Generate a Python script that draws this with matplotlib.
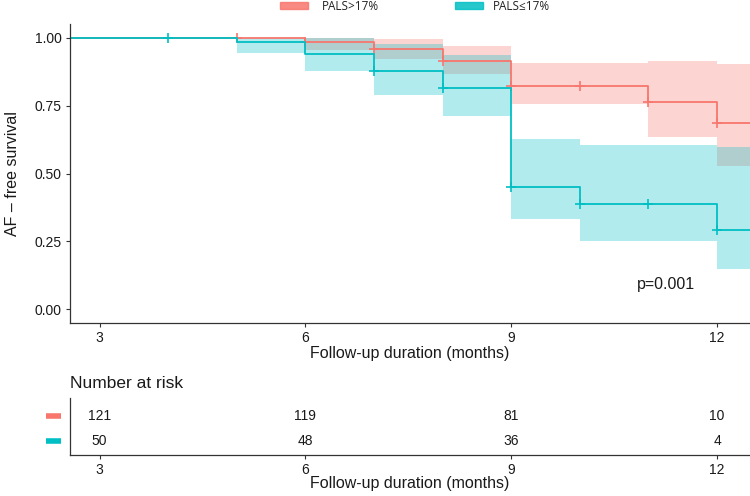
import numpy as np
import matplotlib
matplotlib.use("Agg")
import matplotlib.pyplot as plt
from matplotlib.patches import Rectangle
from matplotlib.transforms import blended_transform_factory

plt.rcParams['font.family'] = ['Liberation Sans', 'DejaVu Sans']

# ---------------- data ----------------
groups = ["PALS>17%", "PALS\u226417%"]
colors = ["#F8766D", "#00BFC4"]
t_start = 2.57
t_end = 12.48

# step change times (first entry = start), survival and CI after each change
red_edges = [t_start, 6, 7, 8, 9, 11, 12]
red_surv = [1.0, 0.984, 0.957, 0.914, 0.822, 0.763, 0.684]
red_upper = [1.0, 1.0, 0.993, 0.970, 0.908, 0.914, 0.902]
red_lower = [1.0, 0.955, 0.920, 0.865, 0.755, 0.636, 0.526]
red_censor = [5, 6, 7, 8, 9, 10, 11, 12]

teal_edges = [t_start, 5, 6, 7, 8, 9, 10, 12]
teal_surv = [1.0, 0.982, 0.940, 0.877, 0.814, 0.452, 0.389, 0.292]
teal_upper = [1.0, 1.0, 0.997, 0.975, 0.935, 0.626, 0.604, 0.596]
teal_lower = [1.0, 0.945, 0.877, 0.790, 0.712, 0.332, 0.252, 0.148]
teal_censor = [4, 7, 8, 9, 10, 11, 12]

risk_times = [3, 6, 9, 12]
risk_red = [121, 119, 81, 10]
risk_teal = [50, 48, 36, 4]

x_ticks = [3, 6, 9, 12]
y_ticks = [0.0, 0.25, 0.5, 0.75, 1.0]
y_ticklabels = ["0.00", "0.25", "0.50", "0.75", "1.00"]
p_text = "p=0.001"

# ---------------- figure ----------------
W, H = 750, 496
fig = plt.figure(figsize=(W / 100, H / 100), dpi=100)

def fx(px):
    return px / W

def fy(py):
    return 1 - py / H

ax = fig.add_axes([fx(70), fy(323), fx(680), 299 / H])
ax2 = fig.add_axes([fx(70), fy(455), fx(680), 57 / H])

axis_col = "#333333"
text_col = "#1a1a1a"

series = [
    (red_edges, red_surv, red_upper, red_lower, red_censor, colors[0]),
    (teal_edges, teal_surv, teal_upper, teal_lower, teal_censor, colors[1]),
]

# confidence bands
for edges, surv, up, lo, cens, col in series:
    xs = np.append(edges, t_end)
    ups = np.append(up, up[-1])
    los = np.append(lo, lo[-1])
    ax.fill_between(xs, los, ups, step="post", color=col, alpha=0.3, lw=0)

# survival curves and censor marks
for edges, surv, up, lo, cens, col in series:
    xs = np.append(edges, t_end)
    ys = np.append(surv, surv[-1])
    ax.step(xs, ys, where="post", color=col, lw=1.3)
    idx = np.searchsorted(edges, cens, side="right") - 1
    cy = np.array(surv)[idx]
    ax.plot(cens, cy, linestyle="none", marker="+", ms=7, mew=1.2, color=col)

ax.set_xlim(t_start, t_end)
ax.set_ylim(-0.05, 1.05)
ax.set_xticks(x_ticks)
ax.set_yticks(y_ticks)
ax.set_yticklabels(y_ticklabels)
for s in ["top", "right"]:
    ax.spines[s].set_visible(False)
for s in ["left", "bottom"]:
    ax.spines[s].set_color(axis_col)
    ax.spines[s].set_linewidth(0.9)
ax.tick_params(axis="both", length=3, width=0.8, color=axis_col,
               labelsize=10, labelcolor=text_col, pad=3)
ax.set_ylabel("AF \u2013 free survival", fontsize=11.5, color=text_col)
ax.yaxis.set_label_coords((20 - 70) / 680, 0.5)
ax.set_xlabel("Follow-up duration (months)", fontsize=11.5, color=text_col)
ax.xaxis.set_label_coords(0.5, (323 - 346) / 299)
ax.text(10.835, 0.092, p_text, fontsize=11.5, color=text_col,
        ha="left", va="center")

# legend at top (near the top edge, as in the reference)
legend_items = [(280, 322), (455, 493)]
for (px, tx), lab, col in zip(legend_items, groups, colors):
    fig.add_artist(Rectangle((fx(px), fy(9)), fx(28), 7 / H,
                             transform=fig.transFigure, color=col, alpha=0.85))
    fig.text(fx(tx), fy(6.5), lab, fontsize=8.5, color="#222222",
             ha="left", va="center", family=["Open Sans", "DejaVu Sans"])

# ---------------- risk table ----------------
rows = [(2, risk_red, colors[0]), (1, risk_teal, colors[1])]
for yrow, vals, col in rows:
    for t, v in zip(risk_times, vals):
        ax2.text(t, yrow, str(v), ha="center", va="center", fontsize=10,
                 color=text_col)
    tr = blended_transform_factory(ax2.transAxes, ax2.transData)
    ax2.plot([-24 / 680, -9 / 680], [yrow, yrow], transform=tr, color=col,
             lw=4, solid_capstyle="butt", clip_on=False)

ax2.set_xlim(t_start, t_end)
ax2.set_ylim(0.447, 2.70)
ax2.set_xticks(x_ticks)
ax2.set_yticks([])
for s in ["top", "right"]:
    ax2.spines[s].set_visible(False)
for s in ["left", "bottom"]:
    ax2.spines[s].set_color(axis_col)
    ax2.spines[s].set_linewidth(0.9)
ax2.tick_params(axis="x", length=3, width=0.8, color=axis_col,
                labelsize=10, labelcolor=text_col, pad=3)
ax2.set_xlabel("Follow-up duration (months)", fontsize=11.5, color=text_col)
ax2.xaxis.set_label_coords(0.5, (455 - 476) / 57)
fig.text(fx(70), fy(383), "Number at risk", fontsize=12.5, color=text_col,
         ha="left", va="center")

fig.savefig("out.png", dpi=100)
